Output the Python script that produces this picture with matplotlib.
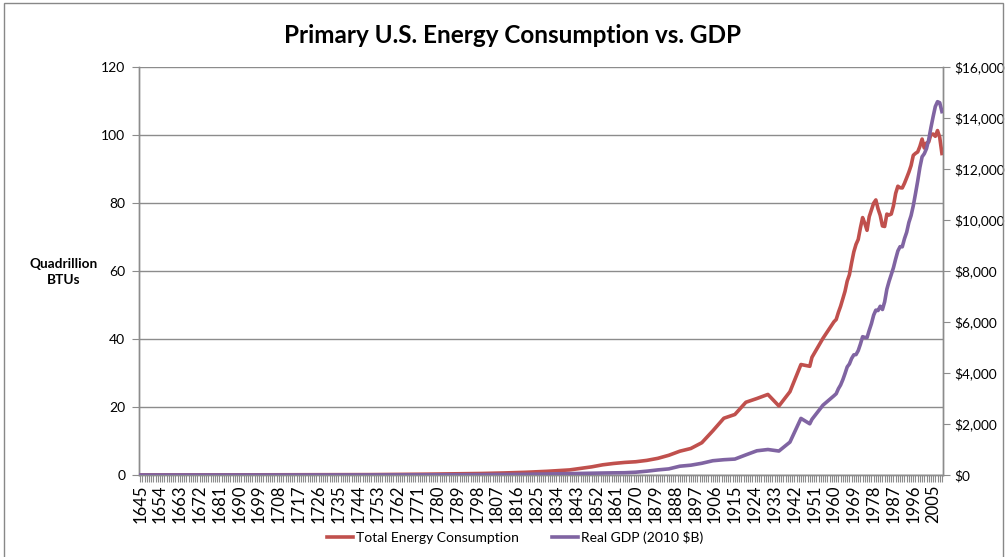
import matplotlib
matplotlib.use("Agg")
import matplotlib.pyplot as plt
from matplotlib.patches import Rectangle
from matplotlib.ticker import FuncFormatter, FixedLocator, MultipleLocator

plt.rcParams['font.family'] = ['Lato', 'DejaVu Sans']

# ---- data ----
energy_years = [1645, 1700, 1750, 1775, 1800, 1810, 1820, 1830, 1840, 1850, 1855, 1860,
                1865, 1870, 1875, 1880, 1885, 1890, 1895, 1900, 1905, 1910, 1915, 1920,
                1925, 1930, 1935, 1940, 1945, 1949, 1950, 1955] + list(range(1960, 2010))
energy_values = [0.03, 0.06, 0.12, 0.25, 0.45, 0.6, 0.8, 1.1, 1.5, 2.4, 3.0, 3.4,
                 3.7, 3.9, 4.3, 4.9, 5.8, 7.0, 7.8, 9.5, 13.0, 16.7, 17.8, 21.4,
                 22.5, 23.7, 20.3, 24.5, 32.5, 31.98, 34.62, 40.21,
                 45.09, 45.74, 47.83, 49.64, 51.82, 54.02, 57.02, 58.91, 62.42,
                 65.62, 67.84, 69.29, 72.70, 75.71, 73.99, 71.97, 75.98, 77.96, 79.94,
                 80.90, 78.29, 76.34, 73.25, 73.10, 76.74, 76.47, 76.76, 79.17, 82.84,
                 84.94, 84.49, 84.43, 85.80, 87.42, 89.09, 91.03, 94.02, 94.60, 95.02,
                 96.65, 98.81, 96.17, 97.64, 97.95, 100.16, 100.28, 99.62, 101.31, 99.29,
                 94.56]

gdp_years = [1645, 1700, 1750, 1775, 1800, 1810, 1820, 1830, 1840, 1850, 1855, 1860,
             1865, 1870, 1875, 1880, 1885, 1890, 1895, 1900, 1905, 1910, 1915, 1920,
             1925, 1930, 1935, 1940, 1945, 1949, 1950, 1955] + list(range(1960, 2010))
gdp_values = [0.5, 1, 3, 6, 15, 22, 30, 40, 55, 70, 78, 85,
              90, 110, 150, 200, 240, 345, 385, 460, 560, 600, 625, 790,
              950, 1000, 940, 1290, 2220, 2009, 2184, 2739,
              3109, 3188, 3383, 3530, 3734, 3977, 4239, 4355, 4569,
              4712, 4722, 4878, 5134, 5424, 5396, 5385, 5675, 5937, 6267,
              6466, 6450, 6618, 6491, 6792, 7285, 7594, 7860, 8133, 8474,
              8786, 8955, 8948, 9267, 9521, 9905, 10175, 10561, 11035, 11526,
              12066, 12480, 12600, 12800, 13150, 13620, 14050, 14450, 14640, 14600,
              14250]

x_tick_labels = list(range(1645, 2010, 9))

red = "#C0504D"
purple = "#8064A2"
grid_c = "#8C8C8C"

fig = plt.figure(figsize=(10.06, 5.57), dpi=100)
fig.patches.append(Rectangle((0.004, -0.01), 0.993, 1.005, transform=fig.transFigure,
                             fill=False, edgecolor="#888888", linewidth=1.0))

ax = fig.add_axes([0.1382, 0.1472, 0.7992, 0.7325])
ax2 = ax.twinx()

ax.plot(energy_years, energy_values, color=red, lw=2.6, solid_joinstyle="round",
        label="Total Energy Consumption", zorder=3)
ax2.plot(gdp_years, gdp_values, color=purple, lw=2.6, solid_joinstyle="round",
         label="Real GDP (2010 $B)", zorder=3)

ax.set_xlim(1644.5, 2009.5)
ax.set_ylim(0, 120)
ax2.set_ylim(0, 16000)

ax.yaxis.set_major_locator(MultipleLocator(20))
ax2.yaxis.set_major_locator(MultipleLocator(2000))
ax2.yaxis.set_major_formatter(FuncFormatter(lambda v, p: "${:,.0f}".format(v)))

ax.grid(axis="y", color=grid_c, lw=1.0)
ax.set_axisbelow(True)

ax.xaxis.set_major_locator(FixedLocator(x_tick_labels))
ax.xaxis.set_minor_locator(MultipleLocator(1))
ax.set_xticklabels([str(y) for y in x_tick_labels], rotation=90, fontsize=12)
ax.tick_params(axis="x", which="both", length=5, width=0.8, color=grid_c, pad=2)
ax.tick_params(axis="y", length=5, color=grid_c, labelsize=10, pad=5)
ax2.tick_params(axis="y", length=5, color=grid_c, labelsize=9.8, pad=3)

for a in (ax, ax2):
    a.spines["top"].set_visible(False)
    for s in ("left", "right", "bottom"):
        a.spines[s].set_color(grid_c)
        a.spines[s].set_linewidth(1.0)

ax.set_ylabel("Quadrillion\nBTUs", rotation=0, fontsize=9.8, fontweight="bold",
              ha="center", va="center", labelpad=0, linespacing=1.4)
ax.yaxis.set_label_coords(-0.094, 0.497)

fig.text(0.509, 0.937, "Primary U.S. Energy Consumption vs. GDP", ha="center", va="center",
         fontsize=17.5, fontweight="bold")

h1, l1 = ax.get_legend_handles_labels()
h2, l2 = ax2.get_legend_handles_labels()
fig.legend(h1 + h2, l1 + l2, loc="center", bbox_to_anchor=(0.512, 0.035), ncol=2,
           frameon=False, fontsize=10, handlelength=1.9, handletextpad=0.2,
           columnspacing=2.4)

fig.savefig("out.png", dpi=100)
